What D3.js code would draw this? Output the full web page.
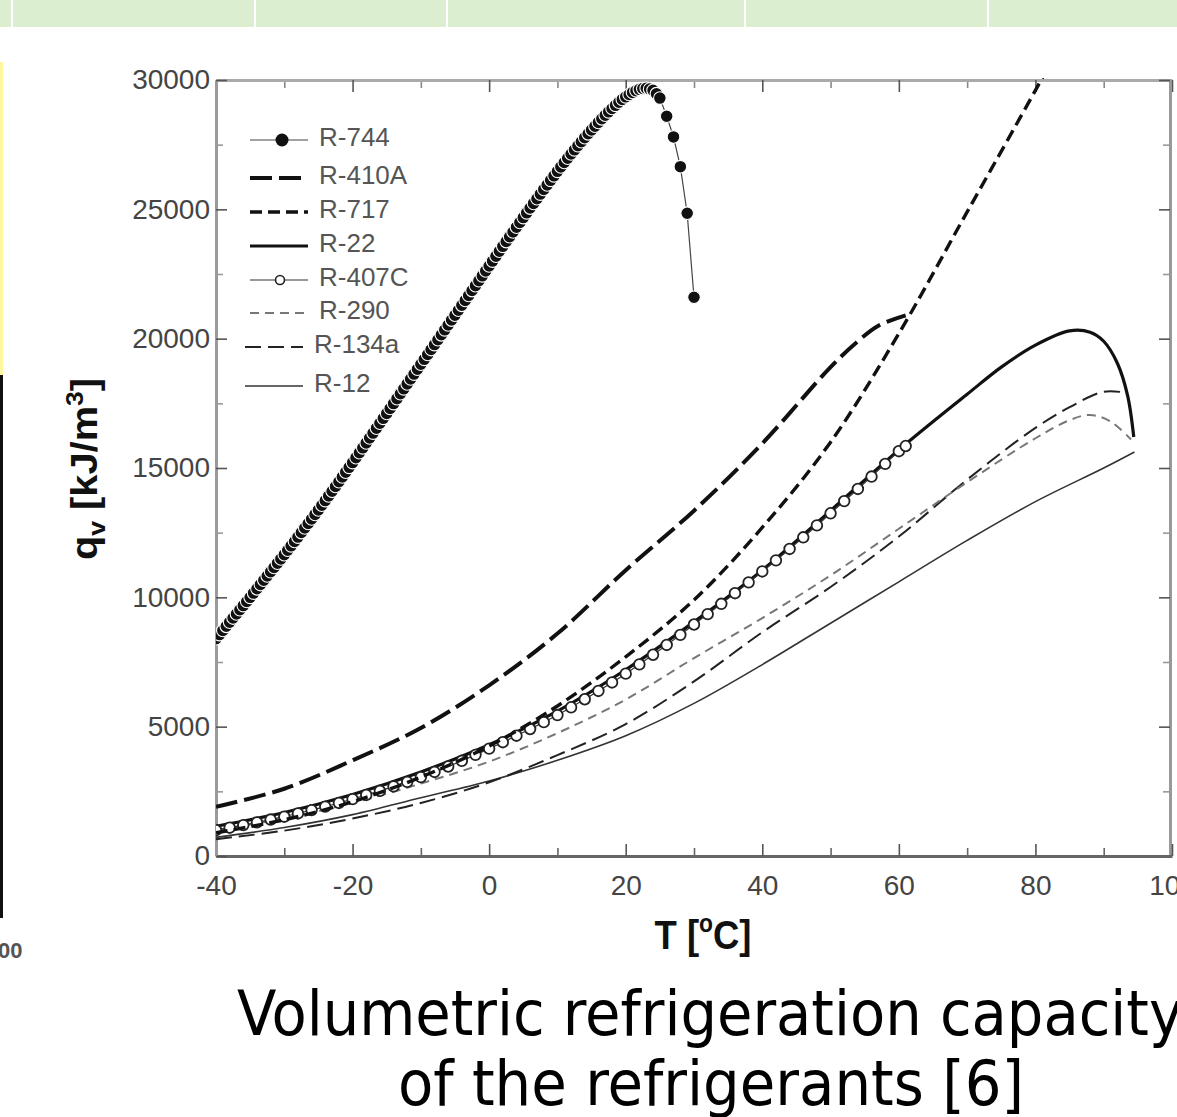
<!DOCTYPE html>
<html>
<head>
<meta charset="utf-8">
<script src="https://cdn.jsdelivr.net/npm/d3@7"></script>
<style>
  html, body { margin: 0; padding: 0; background: #fff; overflow: hidden; }
  svg { display: block; }
</style>
</head>
<body>
<svg id="slide" width="1177" height="1117"></svg>
<script>
// values: [T (°C), q_v (kJ/m3)]
const r744 = [[-40,8400],[-39.5,8560],[-39,8720],[-38.5,8880],[-38,9040],[-37.5,9200],[-37,9360],[-36.5,9520],
  [-36,9680],[-35.5,9840],[-35,10000],[-34.5,10165],[-34,10330],[-33.5,10495],[-33,10660],[-32.5,10825],
  [-32,10990],[-31.5,11155],[-31,11320],[-30.5,11485],[-30,11650],[-29.5,11820],[-29,11990],[-28.5,12160],
  [-28,12330],[-27.5,12505],[-27,12680],[-26.5,12855],[-26,13030],[-25.5,13205],[-25,13380],[-24.5,13560],
  [-24,13740],[-23.5,13920],[-23,14100],[-22.5,14285],[-22,14470],[-21.5,14655],[-21,14840],[-20.5,15025],
  [-20,15210],[-19.5,15400],[-19,15590],[-18.5,15780],[-18,15970],[-17.5,16160],[-17,16350],[-16.5,16540],
  [-16,16730],[-15.5,16920],[-15,17110],[-14.5,17300],[-14,17490],[-13.5,17680],[-13,17870],[-12.5,18060],
  [-12,18250],[-11.5,18440],[-11,18630],[-10.5,18820],[-10,19010],[-9.5,19200],[-9,19390],[-8.5,19580],
  [-8,19770],[-7.5,19960],[-7,20150],[-6.5,20340],[-6,20530],[-5.5,20720],[-5,20910],[-4.5,21100],
  [-4,21290],[-3.5,21480],[-3,21670],[-2.5,21860],[-2,22050],[-1.5,22240],[-1,22430],[-0.5,22620],
  [0,22810],[0.5,23000],[1,23190],[1.5,23380],[2,23570],[2.5,23755],[3,23940],[3.5,24125],[4,24310],
  [4.5,24495],[5,24680],[5.5,24865],[6,25050],[6.5,25230],[7,25410],[7.5,25590],[8,25770],[8.5,25945],
  [9,26120],[9.5,26295],[10,26470],[10.5,26640],[11,26810],[11.5,26975],[12,27140],[12.5,27300],
  [13,27460],[13.5,27615],[14,27770],[14.5,27920],[15,28070],[15.5,28215],[16,28360],[16.5,28500],
  [17,28640],[17.5,28770],[18,28900],[18.5,29020],[19,29140],[19.5,29250],[20,29350],[20.5,29440],
  [21,29520],[21.5,29585],[22,29640],[22.5,29670],[23,29680],[23.5,29650],[24,29600],[24.5,29470],
  [25,29300],[26,28600],[27,27800],[28,26650],[29,24850],[30,21600]];
const r410a = [[-40,1900],[-30,2600],[-20,3700],[-10,4950],[0,6600],[10,8600],[20,11050],[30,13350],
  [40,15950],[50,18900],[54,19900],[57,20500],[61,20900]];
const r717 = [[-40,900],[-30,1400],[-20,2100],[-10,3050],[0,4250],[10,5800],[20,7700],[30,9900],
  [40,12700],[50,16000],[60,20200],[70,24900],[80,29600],[85,32000]];
const r22 = [[-40,1150],[-30,1680],[-20,2380],[-10,3250],[0,4300],[10,5600],[20,7200],[30,9050],
  [40,11050],[50,13350],[60,15700],[70,17850],[75,18900],[80,19750],[85,20300],[88,20250],[90,19900],
  [92,19050],[93.5,17800],[94.4,16200]];
const r407c = [[-40,1000],[-38,1095],[-36,1195],[-34,1300],[-32,1410],[-30,1520],[-28,1645],[-26,1775],
  [-24,1910],[-22,2050],[-20,2200],[-18,2360],[-16,2520],[-14,2690],[-12,2865],[-10,3050],[-8,3250],
  [-6,3460],[-4,3680],[-2,3910],[0,4150],[2,4400],[4,4650],[6,4910],[8,5175],[10,5450],[12,5750],
  [14,6060],[16,6380],[18,6710],[20,7050],[22,7410],[24,7780],[26,8160],[28,8550],[30,8950],[32,9350],
  [34,9750],[36,10160],[38,10580],[40,11000],[42,11430],[44,11870],[46,12320],[48,12780],[50,13250],
  [52,13720],[54,14190],[56,14670],[58,15160],[60,15650],[61,15850]];
const r290 = [[-40,1000],[-30,1450],[-20,2050],[-10,2800],[0,3650],[10,4750],[20,6050],[30,7650],
  [40,9200],[50,10850],[60,12650],[70,14450],[80,16150],[85,16850],[88,17050],[91,16800],[94,16100]];
const r134a = [[-40,650],[-30,980],[-20,1450],[-10,2050],[0,2850],[10,3900],[20,5100],[30,6750],
  [40,8650],[50,10400],[60,12350],[70,14550],[80,16550],[85,17350],[90,17950],[93.5,17900]];
const r12 = [[-40,720],[-30,1100],[-20,1600],[-10,2250],[0,2900],[10,3700],[20,4650],[30,5900],
  [40,7400],[50,9000],[60,10600],[70,12200],[80,13700],[90,15000],[94.5,15620]];

const seriesNames = ["R-744", "R-410A", "R-717", "R-22", "R-407C", "R-290", "R-134a", "R-12"];
const xMajor = [-40, -20, 0, 20, 40, 60, 80, 100];
const xMinor = [-30, -10, 10, 30, 50, 70, 90];
const yMajor = [0, 5000, 10000, 15000, 20000, 25000, 30000];
const yMinor = [2500, 7500, 12500, 17500, 22500, 27500];
const captionLines = ["Volumetric refrigeration capacity", "of the refrigerants [6]"];

const ARIAL = "'Liberation Sans', Arial, sans-serif";
const CAPTION_FONT = "'DejaVu Sans Condensed', 'DejaVu Sans', sans-serif";

const svg = d3.select("#slide");

// slide decoration: green header band and left bars
svg.append("rect").attr("x", 0).attr("y", 0).attr("width", 1177).attr("height", 27).attr("fill", "#dbeed0");
[11, 254, 446, 744, 987].forEach(sx => {
  svg.append("rect").attr("x", sx).attr("y", 0).attr("width", 2).attr("height", 27).attr("fill", "#fff");
});
svg.append("rect").attr("x", 0).attr("y", 62).attr("width", 3).attr("height", 313).attr("fill", "#fff6a0");
svg.append("rect").attr("x", 0).attr("y", 375).attr("width", 3).attr("height", 543).attr("fill", "#111");
svg.append("text").attr("x", -2).attr("y", 958).style("font-family", ARIAL).attr("font-size", 22)
  .attr("font-weight", "bold").attr("fill", "#555").text("00");

// chart
const x = d3.scaleLinear().domain([-40, 100]).range([216, 1172]);
const y = d3.scaleLinear().domain([0, 30000]).range([856, 80]);

svg.append("defs").append("clipPath").attr("id", "plotclip")
  .append("rect").attr("x", 216).attr("y", 78).attr("width", 956).attr("height", 780);

function styleAxis(g, domainColor) {
  g.select(".domain").attr("stroke", domainColor).attr("stroke-width", 3);
  g.selectAll(".tick line").attr("stroke", "#555").attr("stroke-width", 1.6);
  g.selectAll(".tick text").style("font-family", ARIAL).attr("font-size", 28).attr("fill", "#444");
}
const plain = d => String(d);

// minor ticks
svg.append("g").attr("transform", "translate(0,856)")
  .call(d3.axisBottom(x).tickValues(xMinor).tickSize(-8).tickFormat(""))
  .call(g => { g.select(".domain").remove(); g.selectAll("line").attr("stroke", "#666").attr("stroke-width", 1.6); });
svg.append("g").attr("transform", "translate(0,80)")
  .call(d3.axisTop(x).tickValues(xMinor).tickSize(-8).tickFormat(""))
  .call(g => { g.select(".domain").remove(); g.selectAll("line").attr("stroke", "#888").attr("stroke-width", 1.6); });
svg.append("g").attr("transform", "translate(216,0)")
  .call(d3.axisLeft(y).tickValues(yMinor).tickSize(-7).tickFormat(""))
  .call(g => { g.select(".domain").remove(); g.selectAll("line").attr("stroke", "#999").attr("stroke-width", 1.6); });
svg.append("g").attr("transform", "translate(1170,0)")
  .call(d3.axisRight(y).tickValues(yMinor).tickSize(-7).tickFormat(""))
  .call(g => { g.select(".domain").remove(); g.selectAll("line").attr("stroke", "#999").attr("stroke-width", 1.6); });

// major ticks and labels
svg.append("g").attr("transform", "translate(0,80)")
  .call(d3.axisTop(x).tickValues(xMajor).tickSize(-12).tickSizeOuter(0).tickFormat(""))
  .call(g => styleAxis(g, "#aaa"));
svg.append("g").attr("transform", "translate(1170,0)")
  .call(d3.axisRight(y).tickValues(yMajor).tickSize(-11).tickSizeOuter(0).tickFormat(""))
  .call(g => styleAxis(g, "#999"));
svg.append("g").attr("transform", "translate(0,856)")
  .call(d3.axisBottom(x).tickValues(xMajor).tickSize(-12).tickSizeOuter(0).tickPadding(19).tickFormat(plain))
  .call(g => styleAxis(g, "#666"));
svg.append("g").attr("transform", "translate(216,0)")
  .call(d3.axisLeft(y).tickValues(yMajor).tickSize(-11).tickSizeOuter(0).tickPadding(6).tickFormat(plain))
  .call(g => styleAxis(g, "#9a9a9a"));

// axis titles
const xt = svg.append("text").attr("x", 703).attr("y", 949).attr("text-anchor", "middle")
  .style("font-family", ARIAL).attr("font-size", 40).attr("font-weight", "bold").attr("fill", "#111")
  .attr("textLength", 97).attr("lengthAdjust", "spacingAndGlyphs");
xt.append("tspan").text("T [");
xt.append("tspan").attr("font-size", 25).attr("dy", -17).text("o");
xt.append("tspan").attr("dy", 17).text("C]");

const yt = svg.append("text").attr("transform", "translate(97,469) rotate(-90)").attr("text-anchor", "middle")
  .style("font-family", ARIAL).attr("font-size", 36).attr("font-weight", "bold").attr("fill", "#111")
  .attr("textLength", 182).attr("lengthAdjust", "spacingAndGlyphs");
yt.append("tspan").text("q");
yt.append("tspan").attr("font-size", 24).attr("dy", 8).text("v");
yt.append("tspan").attr("dy", -8).text(" [kJ/m");
yt.append("tspan").attr("font-size", 24).attr("dy", -14).text("3");
yt.append("tspan").attr("dy", 14).text("]");

// series styles
const smooth = d3.curveCatmullRom.alpha(0.5);
const styles = {
  "R-744":  {data: r744,  stroke: "#444", width: 1.2, dash: null,   curve: d3.curveLinear},
  "R-410A": {data: r410a, stroke: "#111", width: 4,   dash: "22,7", curve: smooth},
  "R-717":  {data: r717,  stroke: "#111", width: 3.4, dash: "12,6", curve: smooth},
  "R-22":   {data: r22,   stroke: "#111", width: 3.2, dash: null,   curve: smooth},
  "R-407C": {data: r407c, stroke: "#333", width: 1.2, dash: null,   curve: smooth},
  "R-290":  {data: r290,  stroke: "#777", width: 2,   dash: "9,6",  curve: smooth},
  "R-134a": {data: r134a, stroke: "#222", width: 2,   dash: "16,7", curve: smooth},
  "R-12":   {data: r12,   stroke: "#333", width: 1.6, dash: null,   curve: smooth}
};

const plot = svg.append("g").attr("clip-path", "url(#plotclip)");
const drawOrder = ["R-12", "R-134a", "R-290", "R-22", "R-407C", "R-717", "R-410A", "R-744"];
drawOrder.forEach(name => {
  const s = styles[name];
  const line = d3.line().x(d => x(d[0])).y(d => y(d[1])).curve(s.curve);
  plot.append("path").datum(s.data)
    .attr("d", line)
    .attr("fill", "none")
    .attr("stroke", s.stroke)
    .attr("stroke-width", s.width)
    .attr("stroke-dasharray", s.dash);
  if (name === "R-407C") {
    plot.append("g").selectAll("circle").data(s.data).join("circle")
      .attr("cx", d => x(d[0])).attr("cy", d => y(d[1])).attr("r", 5.3)
      .attr("fill", "#fff").attr("stroke", "#222").attr("stroke-width", 1.8);
  }
  if (name === "R-744") {
    plot.append("g").selectAll("circle").data(s.data).join("circle")
      .attr("cx", d => x(d[0])).attr("cy", d => y(d[1])).attr("r", 6.3)
      .attr("fill", "#111").attr("stroke", "#fff").attr("stroke-width", 1.1);
  }
});

// legend
const legendRows = [137, 175, 209, 243, 277, 310, 344, 383];
const legend = svg.append("g");
seriesNames.forEach((name, i) => {
  const s = styles[name];
  const ly = legendRows[i];
  const x0 = i < 6 ? 250 : 245;
  legend.append("line").attr("x1", x0).attr("x2", x0 + 58).attr("y1", ly + 3).attr("y2", ly + 3)
    .attr("stroke", s.stroke).attr("stroke-width", s.width).attr("stroke-dasharray", s.dash);
  if (name === "R-744") {
    legend.append("circle").attr("cx", 282).attr("cy", ly + 3).attr("r", 6.5).attr("fill", "#111");
  }
  if (name === "R-407C") {
    legend.append("circle").attr("cx", 280).attr("cy", ly + 3).attr("r", 4.5)
      .attr("fill", "#fff").attr("stroke", "#222").attr("stroke-width", 1.6);
  }
  legend.append("text").attr("x", i < 6 ? 319 : 314).attr("y", ly).attr("dy", "0.36em")
    .style("font-family", ARIAL).attr("font-size", 26).attr("fill", "#555").text(name);
});

// caption
svg.append("text").attr("x", 237).attr("y", 1035)
  .style("font-family", CAPTION_FONT).attr("font-size", 62).attr("fill", "#000")
  .attr("textLength", 946).attr("lengthAdjust", "spacingAndGlyphs").text(captionLines[0]);
svg.append("text").attr("x", 398).attr("y", 1105)
  .style("font-family", CAPTION_FONT).attr("font-size", 62).attr("fill", "#000")
  .attr("textLength", 626).attr("lengthAdjust", "spacingAndGlyphs").text(captionLines[1]);
</script>
</body>
</html>
